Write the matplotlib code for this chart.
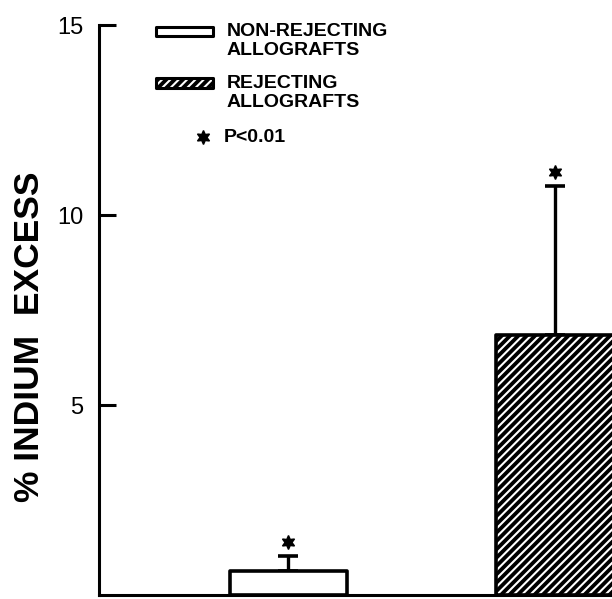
import matplotlib.pyplot as plt
from matplotlib.patches import Rectangle

plt.rcParams['font.family'] = ['Liberation Sans', 'DejaVu Sans']
plt.rcParams['hatch.linewidth'] = 1.5

labels = ['NON-REJECTING\nALLOGRAFTS', 'REJECTING\nALLOGRAFTS']
positions = [1, 2]
means = [0.63, 6.84]
errors = [0.40, 3.92]
yticks = [5, 10, 15]

W, H = 612, 599
fig = plt.figure(figsize=(W / 100, H / 100), dpi=100)
ax = fig.add_axes([99 / W, 4 / H, 513 / W, 570 / H])


def fig_xy(px, py):
    return px / W, 1 - py / H


# non-rejecting: white box
ax.bar(positions[0], means[0], width=0.44, color='white', edgecolor='black',
       linewidth=2.6, joinstyle='round', zorder=2)
# rejecting: black with white diagonal hatch, then black outline
ax.bar(positions[1], means[1], width=0.44, color='black', edgecolor='white',
       hatch='////', linewidth=0, zorder=2)
ax.bar(positions[1], means[1], width=0.44, fill=False, edgecolor='black',
       linewidth=2.6, joinstyle='round', zorder=3)

ax.errorbar(positions, means, yerr=[[0, 0], errors], fmt='none', ecolor='black',
            elinewidth=2.4, capsize=7, capthick=2.6, zorder=1)
star_y = [m + e + 0.37 for m, e in zip(means, errors)]
ax.plot(positions, star_y, linestyle='none', marker=(6, 1, 0), markersize=10,
        color='black')

ax.set_xlim(0.289, 2.214)
ax.set_ylim(0, 15)
ax.set_xticks([])
ax.set_yticks(yticks)
ax.set_yticklabels([str(t) for t in yticks], fontsize=17)
ax.tick_params(axis='y', direction='in', length=12, width=2.2, pad=11)
for s in ['top', 'right']:
    ax.spines[s].set_visible(False)
ax.spines['left'].set_linewidth(2.2)
ax.spines['bottom'].set_linewidth(2.2)

fig.text(*fig_xy(30, 337), '% INDIUM  EXCESS', rotation=90, fontsize=25.5,
         fontweight='bold', ha='center', va='center')

# legend
x0, y0 = fig_xy(156, 36)
x1, y1 = fig_xy(213, 27)
fig.add_artist(Rectangle((x0, y0), x1 - x0, y1 - y0, transform=fig.transFigure,
                         facecolor='white', edgecolor='black', linewidth=2.2,
                         joinstyle='round'))
x0, y0 = fig_xy(156, 88)
x1, y1 = fig_xy(213, 78)
fig.add_artist(Rectangle((x0, y0), x1 - x0, y1 - y0, transform=fig.transFigure,
                         facecolor='black', edgecolor='white', hatch='////',
                         linewidth=0))
fig.add_artist(Rectangle((x0, y0), x1 - x0, y1 - y0, transform=fig.transFigure,
                         fill=False, edgecolor='black', linewidth=2.2,
                         joinstyle='round'))
fig.text(*fig_xy(227, 41), labels[0], fontsize=14, fontweight='bold',
         ha='left', va='center', linespacing=1.2)
fig.text(*fig_xy(227, 93), labels[1], fontsize=14, fontweight='bold',
         ha='left', va='center', linespacing=1.2)
fig.add_artist(plt.Line2D([fig_xy(203, 137)[0]], [fig_xy(203, 137)[1]],
                          transform=fig.transFigure, marker=(6, 1, 0),
                          markersize=10, color='black', linestyle='none'))
fig.text(*fig_xy(224, 137), 'P<0.01', fontsize=14, fontweight='bold',
         ha='left', va='center')

fig.savefig('out.png', dpi=100)
